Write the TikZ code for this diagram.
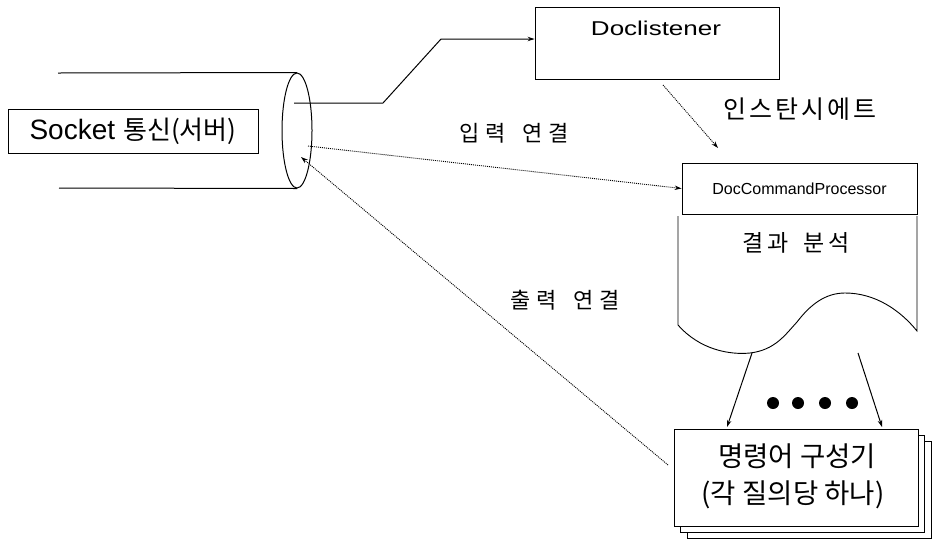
\documentclass[tikz,border=0pt]{standalone}
\usepackage{fontspec}
\setmainfont{Liberation Sans}
\newfontfamily\kr{Noto Sans CJK KR}
\usetikzlibrary{arrows.meta,shapes.geometric}
% letter-spaced text: \spread{gap}{text}, spaces written as ~
\newcommand\spread[2]{\def\spreadgap{#1}\spreadfirst#2\relax}
\def\spreadfirst#1{#1\spreadloop}
\def\spreadloop#1{\ifx#1\relax\else\hspace{\spreadgap}#1\expandafter\spreadloop\fi}
\begin{document}
\begin{tikzpicture}[x=1pt,y=-1pt,
  box/.style={draw,line width=0.9pt,rectangle,inner sep=0pt},
  tip/.style={-{Stealth[length=7pt,width=4.5pt]}},
  dots/.style={dash pattern=on 1pt off 1pt,line width=0.9pt},
  solid line/.style={line width=1pt},
  lbl/.style={inner sep=0pt,font=\kr\fontsize{22}{24}\selectfont},
  bigk/.style={inner sep=0pt,font=\kr\fontsize{27.5}{30}\selectfont}]
\useasboundingbox[fill=white] (0,0) rectangle (936,542);

% pipe end of the socket (cylinder)
\node[ellipse,draw,line width=1pt,minimum width=30pt,minimum height=115pt,inner sep=0pt] (pipe) at (297,130.5) {};
\coordinate (ptop) at (58,73);
\coordinate (pbot) at (59,188);
\draw[solid line] (ptop) -- (pipe.north);
\draw[solid line] (pbot) -- (pipe.south);

% socket label
\node[box,fill=white,minimum width=250pt,minimum height=44pt,font=\fontsize{28}{30}\selectfont] (sock) at (133,131)
  {Socket\hspace{8pt}{\kr\fontsize{26}{28}\selectfont 통신(서버)}};

% listener
\node[box,minimum width=244pt,minimum height=72pt] (dl) at (657,43) {};
\node[inner sep=0pt,font=\fontsize{20}{22}\selectfont] (dltext) at (656,28) {\scalebox{1.3}[1]{Doclistener}};

% connection from the socket to the listener
\coordinate (c0) at (294,103);
\coordinate (c1) at (383,103);
\coordinate (c2) at (441,39);
\draw[solid line,tip] (c0) -- (c1) -- (c2) -- (c2 -| dl.west);

% command processor
\node[box,minimum width=235pt,minimum height=51pt,font=\fontsize{16}{18}\selectfont] (dcp) at (799.5,188.5) {DocCommandProcessor};

% instantiation
\coordinate (d0) at (663,85);
\coordinate (d1) at (718,148);
\draw[dots,tip] (d0) -- (d1);
\node[inner sep=0pt,font=\kr\fontsize{25}{28}\selectfont] (inst) at (800,109) {\spread{3pt}{인스탄시에트}};

% result analysis (document shape)
\draw[line width=0.9pt] (678,216) -- (678,325)
  .. controls (700,350) and (730,355) .. (750,353)
  .. controls (775,350) and (785,335) .. (797,322)
  .. controls (810,305) and (825,293) .. (845,293)
  .. controls (875,293) and (900,310) .. (917,331)
  -- (917,216);
\node[inner sep=0pt,font=\kr\fontsize{23}{26}\selectfont] (ana) at (796,243) {\spread{4.5pt}{결과~분석}};

% input / output connections
\coordinate (in0) at (308,146);
\draw[dots,tip] (in0) -- (dcp.west);
\node[lbl] (inl) at (514,133) {\spread{6pt}{입력~연결}};

\coordinate (out0) at (668,465);
\coordinate (out1) at (301,157);
\draw[dots,tip] (out0) -- (out1);
\node[lbl] (outl) at (565,300) {\spread{6pt}{출력~연결}};

% command builders (stack)
\node[box,fill=white,minimum width=244pt,minimum height=97pt] (gen3) at (809,489.5) {};
\node[box,fill=white,minimum width=244pt,minimum height=97pt] (gen2) at (802.5,483.5) {};
\node[box,fill=white,minimum width=244pt,minimum height=97pt] (gen) at (796,477.5) {};
\node[bigk] (genA) at (797,456) {명령어 구성기};
\node[bigk] (genB) at (793,495) {(각 질의당 하나)};

% fan-out arrows and ellipsis dots
\coordinate (a0) at (752,353);
\coordinate (a1) at (727,427);
\coordinate (b0) at (858,353);
\coordinate (b1) at (882,427);
\draw[solid line,tip] (a0) -- (a1);
\draw[solid line,tip] (b0) -- (b1);
\foreach \x/\n in {773/1,798/2,825/3,852/4}
  \fill (\x,403) circle (6pt) coordinate (dot\n);
\end{tikzpicture}
\end{document}
